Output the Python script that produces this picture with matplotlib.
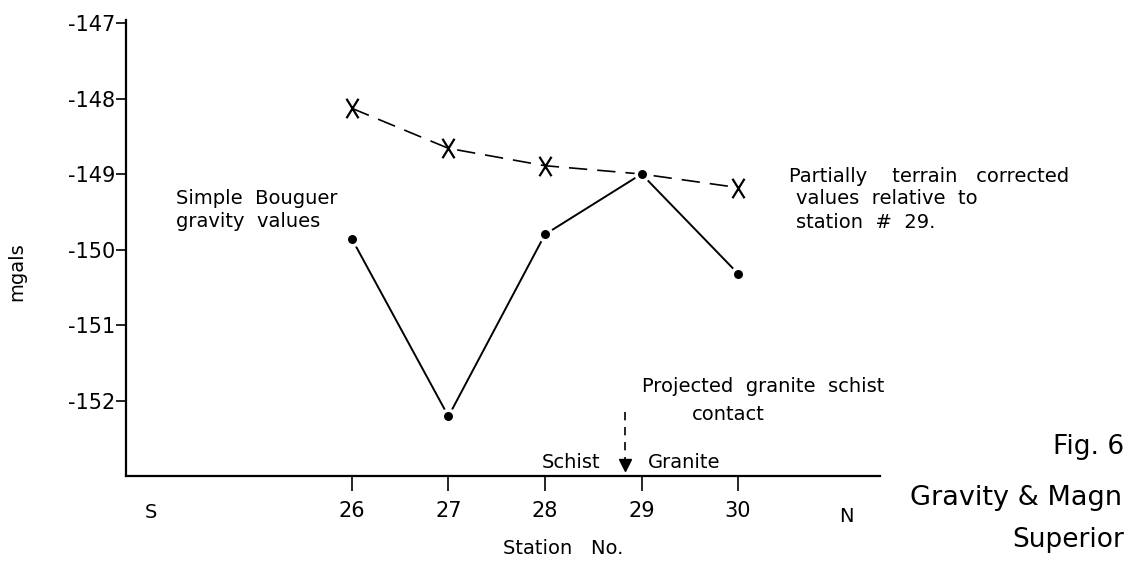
import matplotlib
matplotlib.use("Agg")
import matplotlib.pyplot as plt
from matplotlib.path import Path

plt.rcParams["font.family"] = ["DejaVu Sans"]
plt.rcParams["axes.unicode_minus"] = False

# Gravity profile data (mgals) along stations 26-30
stations = [26, 27, 28, 29, 30]
bouguer = [-149.86, -152.21, -149.80, -149.00, -150.32]
terrain_corrected = [-148.13, -148.66, -148.89, -149.00, -149.18]
y_ticks = [-147, -148, -149, -150, -151, -152]
contact_station = 28.83

W, H = 1129, 563
fig = plt.figure(figsize=(W / 100, H / 100), dpi=100)
fig.patch.set_facecolor("white")


def fpos(x, y):
    """Pixel position (from top-left) to figure fraction."""
    return x / W, 1 - y / H


ax = fig.add_axes([126 / W, 1 - 476 / H, 754 / W, 456 / H])
ax.set_xlim(23.66, 31.47)
ax.set_ylim(-153.0, -146.96)

for side in ("top", "right"):
    ax.spines[side].set_visible(False)
for side in ("left", "bottom"):
    ax.spines[side].set_linewidth(1.6)
    ax.spines[side].set_color("black")

ax.set_xticks(stations)
ax.set_xticklabels([str(s) for s in stations])
ax.set_yticks(y_ticks)
ax.set_yticklabels([str(v) for v in y_ticks])
ax.tick_params(axis="x", direction="out", length=11, width=1.2, pad=7, labelsize=15)
ax.tick_params(axis="y", direction="out", length=7, width=1.2, pad=1, labelsize=15)

# X-shaped marker drawn as two strokes, taller than wide
x_marker = Path([(-0.62, -1.0), (0.62, 1.0), (-0.62, 1.0), (0.62, -1.0)],
                [Path.MOVETO, Path.LINETO, Path.MOVETO, Path.LINETO])

# Partially terrain corrected values (dashed)
ax.plot(stations, terrain_corrected, color="black", lw=1.2,
        linestyle=(0, (11, 6)), zorder=2)
ax.plot([stations[i] for i in (0, 1, 2, 4)],
        [terrain_corrected[i] for i in (0, 1, 2, 4)],
        linestyle="none", marker=x_marker, markersize=14,
        markerfacecolor="none", markeredgecolor="black", markeredgewidth=1.6,
        zorder=3)

# Simple Bouguer values (solid with dots)
ax.plot(stations, bouguer, color="black", lw=1.4, zorder=2)
ax.plot(stations, bouguer, linestyle="none", marker="o", markersize=9,
        markerfacecolor="black", markeredgecolor="white", markeredgewidth=2.5,
        zorder=4)

# Projected granite/schist contact
ax.plot([contact_station, contact_station], [-152.15, -152.85], color="black",
        lw=1.2, linestyle=(0, (5, 4)), zorder=2)
ax.plot([contact_station], [-152.86], marker="v", markersize=8,
        color="black", linestyle="none", zorder=3)

fs = 14
fig.text(*fpos(176, 210), "Simple  Bouguer\ngravity  values", fontsize=fs,
         ha="left", va="center", linespacing=1.3)
fig.text(*fpos(789, 177), "Partially    terrain   corrected", fontsize=fs,
         ha="left", va="center")
fig.text(*fpos(796, 199), "values  relative  to", fontsize=fs,
         ha="left", va="center")
fig.text(*fpos(796, 222), "station  #  29.", fontsize=fs,
         ha="left", va="center")
fig.text(*fpos(642, 387), "Projected  granite  schist", fontsize=fs,
         ha="left", va="center")
fig.text(*fpos(692, 415), "contact", fontsize=fs, ha="left", va="center")
fig.text(*fpos(542, 462), "Schist", fontsize=fs, ha="left", va="center")
fig.text(*fpos(648, 462), "Granite", fontsize=fs, ha="left", va="center")
fig.text(*fpos(151, 512), "S", fontsize=fs, ha="center", va="center")
fig.text(*fpos(846, 517), "N", fontsize=fs, ha="center", va="center")
fig.text(*fpos(563, 548), "Station   No.", fontsize=fs, ha="center", va="center")
fig.text(*fpos(17, 272), "mgals", fontsize=fs, rotation=90,
         ha="center", va="center")

fig.text(*fpos(1053, 447), "Fig. 6", fontsize=19, ha="left", va="center")
fig.text(*fpos(910, 498), "Gravity & Magn", fontsize=19.5, ha="left", va="center")
fig.text(*fpos(1012, 540), "Superior", fontsize=19, ha="left", va="center")

fig.savefig("out.png", dpi=100, facecolor="white")
